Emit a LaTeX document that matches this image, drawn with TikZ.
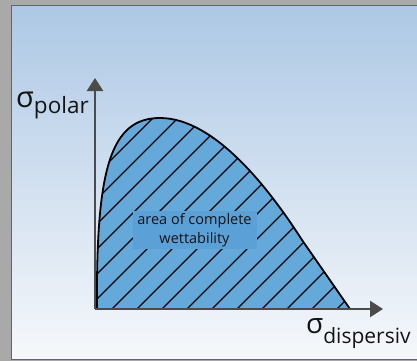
\documentclass[tikz,border=0pt]{standalone}
\usepackage{fontspec}
\setmainfont{Open Sans}
\usetikzlibrary{arrows.meta}
\definecolor{bggray}{HTML}{A9A9A9}
\definecolor{paneltop}{HTML}{ADC8E5}
\definecolor{panelbot}{HTML}{F6F8FB}
\definecolor{panelborder}{HTML}{5C5F9F}
\definecolor{areafill}{HTML}{64A9DA}
\definecolor{boxfill}{HTML}{5CA0D8}
\definecolor{axisgray}{HTML}{4B4B4B}
\definecolor{txt}{HTML}{141414}
\tikzset{
  axisline/.style={draw=axisgray, line width=2.6pt, -{Triangle[length=13pt,width=16pt]}},
  hatchline/.style={draw=black, line width=1.3pt},
  outline/.style={draw=black, line width=1.8pt, line join=round},
  axislabel/.style={inner sep=0pt, anchor=base west, text=txt},
  areabox/.style={fill=boxfill, text=txt, inner sep=0pt, minimum width=124pt, minimum height=38pt, align=center, font=\fontsize{14.5}{18.5}\selectfont}
}
\begin{document}
\begin{tikzpicture}[x=1pt,y=-1pt]
\useasboundingbox (0,0) rectangle (417,361);
\fill[bggray] (0,0) rectangle (417,361);
\shade[top color=paneltop, bottom color=panelbot] (11,6) rectangle (422,359);
\draw[panelborder, line width=1pt] (11,6) -- (11,359) -- (422,359);
\draw[panelborder, line width=1pt] (11,6) -- (422,6);
% area
\def\areapath{(97,309) .. controls (96,170) and (110,118) .. (160,118) .. controls (215,118) and (270,190) .. (302,240) -- (350,309) -- cycle}
\fill[areafill] \areapath;
\begin{scope}
\clip \areapath;
\foreach \c in {196,221,...,696} {
  \draw[hatchline] (\c-330,330) -- (\c-90,90);
}
\end{scope}
\draw[outline] \areapath;
% axes
\coordinate (origin) at (95,309);
\coordinate (ytip) at (95,78);
\coordinate (xtip) at (383,309);
\draw[axisline] (origin) -- (ytip);
\draw[axisline] (origin) -- (xtip);
% labels
\node[axislabel] (ylabel) at (16,107) {{\fontsize{29}{29}\selectfont σ}\raisebox{-6pt}{\fontsize{22.5}{22.5}\selectfont polar}};
\node[axislabel] (xlabel) at (306,333) {{\fontsize{28}{28}\selectfont σ}\raisebox{-10pt}{\fontsize{21}{21}\selectfont dispersiv}};
\node[areabox] (area) at (194.5,230) {area of complete\\wettability};
\end{tikzpicture}
\end{document}
